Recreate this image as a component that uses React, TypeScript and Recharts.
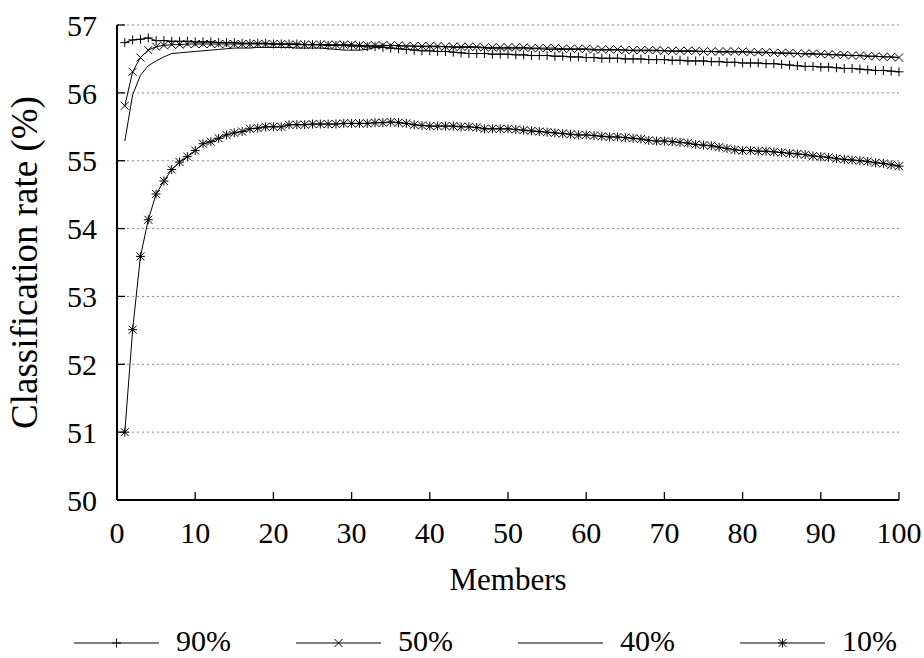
import React from "react"
import { LineChart, Line, XAxis, YAxis, CartesianGrid, Legend } from "recharts"

const members = [
  1, 2, 3, 4, 5, 6, 7, 8, 9, 10, 11, 12, 13, 14, 15, 16, 17, 18, 19, 20,
  21, 22, 23, 24, 25, 26, 27, 28, 29, 30, 31, 32, 33, 34, 35, 36, 37, 38, 39, 40,
  41, 42, 43, 44, 45, 46, 47, 48, 49, 50, 51, 52, 53, 54, 55, 56, 57, 58, 59, 60,
  61, 62, 63, 64, 65, 66, 67, 68, 69, 70, 71, 72, 73, 74, 75, 76, 77, 78, 79, 80,
  81, 82, 83, 84, 85, 86, 87, 88, 89, 90, 91, 92, 93, 94, 95, 96, 97, 98, 99, 100,
]

const rate90 = [
  56.74, 56.78, 56.79, 56.81, 56.77, 56.77, 56.76, 56.76, 56.76, 56.75,
  56.75, 56.75, 56.74, 56.74, 56.74, 56.73, 56.73, 56.73, 56.73, 56.72,
  56.72, 56.72, 56.72, 56.71, 56.71, 56.71, 56.7, 56.7, 56.7, 56.69,
  56.69, 56.68, 56.68, 56.67, 56.66, 56.65, 56.64, 56.63, 56.62, 56.62,
  56.61, 56.61, 56.6, 56.59, 56.58, 56.58, 56.58, 56.57, 56.57, 56.57,
  56.56, 56.56, 56.55, 56.55, 56.55, 56.54, 56.54, 56.53, 56.53, 56.52,
  56.52, 56.51, 56.51, 56.51, 56.5, 56.5, 56.5, 56.49, 56.49, 56.49,
  56.48, 56.48, 56.47, 56.47, 56.47, 56.46, 56.46, 56.45, 56.45, 56.44,
  56.44, 56.44, 56.43, 56.43, 56.42, 56.41, 56.4, 56.39, 56.39, 56.38,
  56.38, 56.37, 56.36, 56.36, 56.35, 56.34, 56.33, 56.33, 56.32, 56.31,
]

const rate50 = [
  55.81, 56.31, 56.52, 56.63, 56.68, 56.7, 56.71, 56.71, 56.72, 56.72,
  56.72, 56.72, 56.72, 56.72, 56.72, 56.72, 56.72, 56.72, 56.72, 56.72,
  56.72, 56.71, 56.71, 56.71, 56.71, 56.71, 56.71, 56.71, 56.71, 56.71,
  56.7, 56.7, 56.7, 56.7, 56.7, 56.7, 56.69, 56.69, 56.69, 56.69,
  56.69, 56.68, 56.68, 56.68, 56.68, 56.68, 56.67, 56.67, 56.67, 56.67,
  56.67, 56.67, 56.66, 56.66, 56.66, 56.66, 56.65, 56.65, 56.65, 56.65,
  56.64, 56.64, 56.64, 56.64, 56.63, 56.63, 56.63, 56.63, 56.63, 56.62,
  56.62, 56.62, 56.62, 56.62, 56.61, 56.61, 56.61, 56.61, 56.61, 56.61,
  56.6, 56.6, 56.6, 56.59, 56.59, 56.59, 56.58, 56.58, 56.58, 56.57,
  56.57, 56.56, 56.56, 56.55, 56.55, 56.54, 56.54, 56.53, 56.53, 56.52,
]

const rate40 = [
  55.29, 55.97, 56.26, 56.4, 56.47, 56.53, 56.58, 56.59, 56.6, 56.61,
  56.62, 56.63, 56.64, 56.65, 56.66, 56.66, 56.66, 56.67, 56.67, 56.67,
  56.67, 56.67, 56.66, 56.66, 56.66, 56.66, 56.65, 56.64, 56.63, 56.63,
  56.63, 56.64, 56.67, 56.69, 56.7, 56.69, 56.69, 56.69, 56.68, 56.68,
  56.68, 56.68, 56.67, 56.67, 56.67, 56.67, 56.66, 56.65, 56.65, 56.65,
  56.65, 56.65, 56.65, 56.65, 56.64, 56.64, 56.64, 56.64, 56.64, 56.64,
  56.63, 56.63, 56.63, 56.63, 56.63, 56.62, 56.62, 56.62, 56.62, 56.62,
  56.61, 56.61, 56.61, 56.61, 56.61, 56.61, 56.6, 56.6, 56.6, 56.6,
  56.6, 56.59, 56.59, 56.59, 56.58, 56.58, 56.58, 56.57, 56.57, 56.57,
  56.56, 56.56, 56.55, 56.55, 56.55, 56.54, 56.54, 56.53, 56.53, 56.52,
]

const rate10 = [
  51.0, 52.51, 53.59, 54.13, 54.51, 54.7, 54.87, 54.98, 55.06, 55.15,
  55.25, 55.28, 55.33, 55.38, 55.41, 55.43, 55.47, 55.48, 55.5, 55.5,
  55.5, 55.53, 55.53, 55.53, 55.54, 55.54, 55.54, 55.54, 55.55, 55.55,
  55.55, 55.55, 55.56, 55.56, 55.57, 55.56, 55.55, 55.53, 55.52, 55.51,
  55.51, 55.51, 55.51, 55.5, 55.5, 55.49, 55.47, 55.47, 55.47, 55.47,
  55.46, 55.45, 55.44, 55.43, 55.42, 55.41, 55.4, 55.39, 55.38, 55.38,
  55.37, 55.36, 55.35, 55.35, 55.34, 55.33, 55.32, 55.3, 55.29, 55.29,
  55.28, 55.27, 55.26, 55.24, 55.23, 55.22, 55.2, 55.18, 55.16, 55.15,
  55.15, 55.14, 55.14, 55.13, 55.12, 55.11, 55.1, 55.09, 55.07, 55.06,
  55.05, 55.03, 55.02, 55.01, 55.0, 54.99, 54.97, 54.96, 54.94, 54.92,
]

const xTicks = [0, 10, 20, 30, 40, 50, 60, 70, 80, 90, 100]
const yTicks = [50, 51, 52, 53, 54, 55, 56, 57]
const seriesNames = ["90%", "50%", "40%", "10%"]

const data = members.map((m, i) => ({
  members: m,
  r90: rate90[i],
  r50: rate50[i],
  r40: rate40[i],
  r10: rate10[i],
}))

const FONT = "'Liberation Serif', 'Times New Roman', serif"

// gnuplot style point markers
function Marker({ cx, cy, kind }: { cx: number; cy: number; kind: string }) {
  let d = ""
  if (kind === "plus" || kind === "star") {
    d += `M${cx - 4.5},${cy}H${cx + 4.5}M${cx},${cy - 4.5}V${cy + 4.5}`
  }
  if (kind === "cross" || kind === "star") {
    d += `M${cx - 4},${cy - 4}L${cx + 4},${cy + 4}M${cx - 4},${cy + 4}L${cx + 4},${cy - 4}`
  }
  if (!d) return <g />
  return <path d={d} stroke="#000" strokeWidth={1} fill="none" />
}

const markerKinds = ["plus", "cross", "none", "star"]
const legendStarts = [74, 296, 518, 740]

function KeyBox() {
  return (
    <svg width={924} height={30} style={{ display: "block", overflow: "visible" }}>
      {seriesNames.map((name, i) => {
        const x0 = legendStarts[i]
        return (
          <g key={name}>
            <line x1={x0} x2={x0 + 85} y1={15} y2={15} stroke="#000" strokeWidth={1} />
            <Marker cx={x0 + 42.5} cy={15} kind={markerKinds[i]} />
            <text x={x0 + 102} y={23} fontSize={30} fontFamily={FONT} fill="#000">
              {name}
            </text>
          </g>
        )
      })}
    </svg>
  )
}

const dotFor = (kind: string) => (p: any) =>
  <Marker key={`${kind}-${p.index}`} cx={p.cx} cy={p.cy} kind={kind} />

export default function App() {
  const tickStyle = { fontSize: 30, fill: "#000", fontFamily: FONT }
  const frame = { stroke: "#000", strokeWidth: 2 }
  const tickLine = { stroke: "#000", strokeWidth: 1.3 }

  return (
    <div style={{ position: "absolute", left: 0, top: 0, background: "#fff" }}>
      <LineChart width={924} height={658} data={data} margin={{ top: 25, right: 25, bottom: 0, left: 0 }}>
        <CartesianGrid vertical={false} stroke="#888" strokeDasharray="2 3" />
        <XAxis
          dataKey="members"
          type="number"
          domain={[0, 100]}
          ticks={xTicks}
          interval={0}
          height={128}
          tickSize={-8}
          tickMargin={30}
          axisLine={frame}
          tickLine={tickLine}
          tick={tickStyle}
          label={{ value: "Members", position: "insideBottom", offset: 38, fontSize: 31, fill: "#000", fontFamily: FONT }}
        />
        <XAxis
          xAxisId="top"
          orientation="top"
          dataKey="members"
          type="number"
          domain={[0, 100]}
          ticks={xTicks}
          interval={0}
          height={0}
          tickSize={-8}
          axisLine={frame}
          tickLine={tickLine}
          tick={() => <g />}
        />
        <YAxis
          domain={[50, 57]}
          ticks={yTicks}
          interval={0}
          width={117}
          tickSize={-8}
          tickMargin={28}
          axisLine={frame}
          tickLine={tickLine}
          tick={tickStyle}
          label={{
            value: "Classification rate (%)",
            angle: -90,
            position: "insideLeft",
            offset: 24,
            fontSize: 37,
            fill: "#000",
            fontFamily: FONT,
            style: { textAnchor: "middle" },
          }}
        />
        <YAxis
          yAxisId="right"
          orientation="right"
          domain={[50, 57]}
          ticks={yTicks}
          interval={0}
          width={0}
          tickSize={-8}
          axisLine={frame}
          tickLine={tickLine}
          tick={() => <g />}
        />
        <Legend
          verticalAlign="bottom"
          content={() => <KeyBox />}
          wrapperStyle={{ left: 0, bottom: 0, width: 924, height: 30 }}
        />
        <Line type="linear" dataKey="r90" name={seriesNames[0]} stroke="#000" strokeWidth={1} dot={dotFor("plus")} activeDot={false} isAnimationActive={false} />
        <Line type="linear" dataKey="r50" name={seriesNames[1]} stroke="#000" strokeWidth={1} dot={dotFor("cross")} activeDot={false} isAnimationActive={false} />
        <Line type="linear" dataKey="r40" name={seriesNames[2]} stroke="#000" strokeWidth={1} dot={false} activeDot={false} isAnimationActive={false} />
        <Line type="linear" dataKey="r10" name={seriesNames[3]} stroke="#000" strokeWidth={1} dot={dotFor("star")} activeDot={false} isAnimationActive={false} />
      </LineChart>
    </div>
  )
}
